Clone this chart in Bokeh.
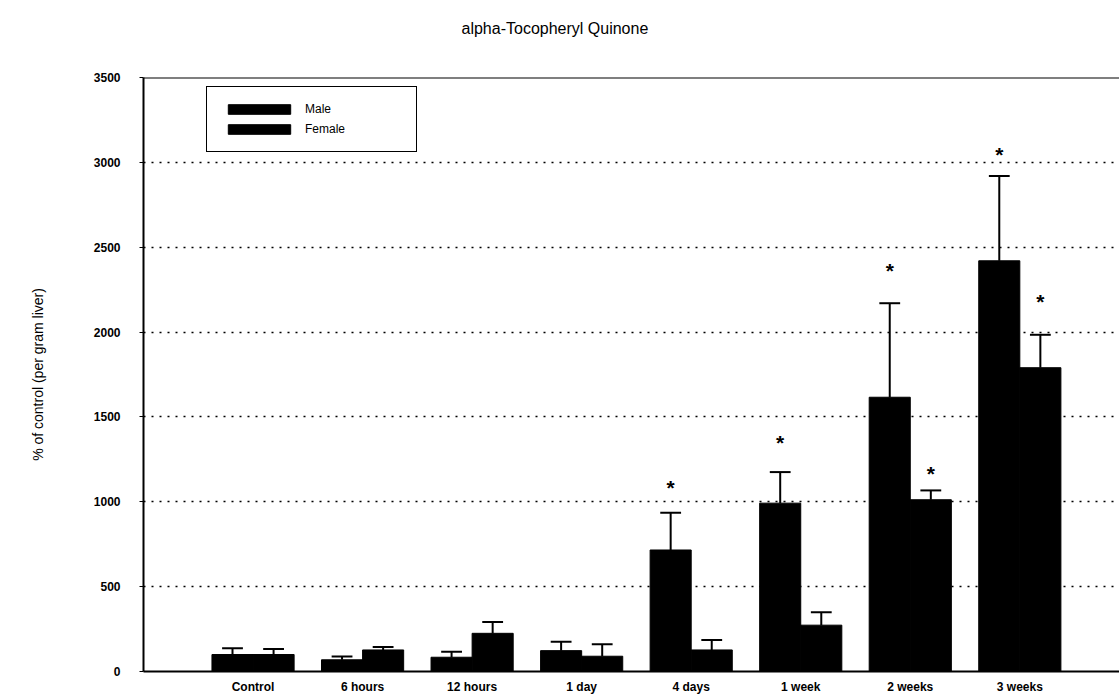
import numpy as np
from bokeh.plotting import figure
from bokeh.models import (ColumnDataSource, FixedTicker, Span, Legend, LegendItem, Title)
from bokeh.embed import file_html
from bokeh.resources import INLINE

# ---- data ----
groups = ["Control", "6 hours", "12 hours", "1 day", "4 days", "1 week", "2 weeks", "3 weeks"]
male = [100, 69, 84, 123, 716, 992, 1616, 2420]
male_err_top = [137, 88, 116, 176, 935, 1175, 2170, 2920]
female = [100, 127, 225, 90, 127, 273, 1012, 1790]
female_err_top = [133, 145, 292, 161, 186, 349, 1067, 1984]
male_star = [None, None, None, None, 1113, 1380, 2394, 3075]
female_star = [None, None, None, None, None, None, 1194, 2212]
y_ticks = [0, 500, 1000, 1500, 2000, 2500, 3000, 3500]
grid_ticks = [500, 1000, 1500, 2000, 2500, 3000]

FONT = "Liberation Sans"
BW = 0.375

pos = np.arange(1, len(groups) + 1)
xm = pos - BW / 2
xf = pos + BW / 2

p = figure(width=1119, height=696, output_backend="svg", toolbar_location=None,
           x_range=(0, 8.91), y_range=(0, 3500), title=None,
           min_border_left=143, min_border_right=0, min_border_top=77, min_border_bottom=24)
p.outline_line_color = None
p.background_fill_color = "white"
p.border_fill_color = "white"

# spacer panel (closest to the frame), then the real title above it
p.add_layout(Title(text=" ", text_font_size="1px", standoff=37), "above")
p.add_layout(Title(text="alpha-Tocopheryl Quinone", align="left", offset=318, standoff=2,
                   text_font=FONT, text_font_size="16px", text_font_style="normal",
                   text_color="black"), "above")

src_m = ColumnDataSource(dict(x=xm, top=male, err=male_err_top,
                              c0=xm - 0.095, c1=xm + 0.095))
src_f = ColumnDataSource(dict(x=xf, top=female, err=female_err_top,
                              c0=xf - 0.095, c1=xf + 0.095))

rm = p.vbar(x="x", top="top", width=BW, source=src_m, fill_color="black", line_color="black")
rf = p.vbar(x="x", top="top", width=BW, source=src_f, fill_color="black", line_color="black")

for s in (src_m, src_f):
    p.segment(x0="x", y0="top", x1="x", y1="err", source=s, line_color="black", line_width=2)
    p.segment(x0="c0", y0="err", x1="c1", y1="err", source=s, line_color="black", line_width=2)

# asterisks
sx, sy = [], []
for i in range(len(groups)):
    if male_star[i] is not None:
        sx.append(xm[i]); sy.append(male_star[i])
    if female_star[i] is not None:
        sx.append(xf[i]); sy.append(female_star[i])
p.text(x=sx, y=sy, text=["*"] * len(sx), text_align="center", text_baseline="middle",
       y_offset=5, text_font_size="21px", text_font_style="bold", text_color="black",
       text_font={"value": FONT})

# top border line
p.add_layout(Span(location=3500, dimension="width", line_color="black", line_width=2))

# axes
p.xgrid.visible = False
p.ygrid.ticker = FixedTicker(ticks=grid_ticks)
p.ygrid.grid_line_color = "black"
p.ygrid.grid_line_dash = "2 6"
p.ygrid.grid_line_width = 1.5

p.yaxis.ticker = FixedTicker(ticks=y_ticks)
p.yaxis.minor_tick_line_color = None
p.yaxis.major_tick_out = 4
p.yaxis.major_tick_in = 0
p.yaxis.major_label_standoff = 19
p.yaxis.axis_line_width = 2
p.yaxis.major_label_text_font = FONT
p.yaxis.major_label_text_font_size = "12px"
p.yaxis.major_label_text_font_style = "bold"
p.yaxis.major_label_text_color = "black"
p.yaxis.axis_label = "% of control (per gram liver)"
p.yaxis.axis_label_standoff = 45
p.yaxis.axis_label_text_font = FONT
p.yaxis.axis_label_text_font_size = "14px"
p.yaxis.axis_label_text_font_style = "normal"
p.yaxis.axis_label_text_color = "black"

p.xaxis.ticker = FixedTicker(ticks=list(pos))
p.xaxis.major_label_overrides = {int(k): g for k, g in zip(pos, groups)}
p.xaxis.minor_tick_line_color = None
p.xaxis.major_tick_line_color = None
p.xaxis.major_tick_out = 0
p.xaxis.major_tick_in = 0
p.xaxis.major_label_standoff = 8
p.xaxis.axis_line_width = 2
p.xaxis.major_label_text_font = FONT
p.xaxis.major_label_text_font_size = "12px"
p.xaxis.major_label_text_font_style = "bold"
p.xaxis.major_label_text_color = "black"

legend = Legend(items=[LegendItem(label="Male", renderers=[rm]),
                       LegendItem(label="Female", renderers=[rf])],
                location=(63, 519), margin=0, padding=13, spacing=2,
                glyph_width=78, glyph_height=12, label_height=18, label_width=98,
                label_standoff=7, border_line_color="black", border_line_width=1.5,
                border_line_alpha=1.0,
                label_text_font=FONT, label_text_font_size="12px", label_text_color="black",
                background_fill_color="white", background_fill_alpha=1)
p.add_layout(legend)

open("out.html", "w").write(file_html(p, INLINE))
